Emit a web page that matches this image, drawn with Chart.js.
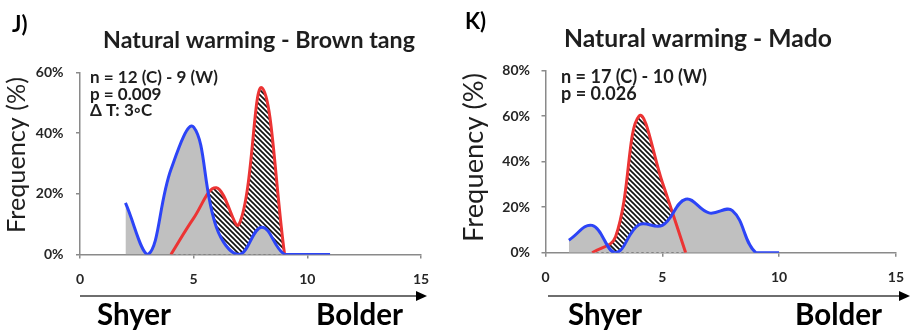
<!DOCTYPE html>
<html><head><meta charset="utf-8">
<script src="https://cdn.jsdelivr.net/npm/chart.js@4"></script>
<style>
html,body{margin:0;padding:0;background:#fff;}
#wrap{position:relative;width:916px;height:335px;overflow:hidden;background:#fff;}
canvas{position:absolute;top:0;}
</style></head><body>
<div id="wrap">
<canvas id="c1" width="460" height="335" style="left:0"></canvas>
<canvas id="c2" width="456" height="335" style="left:460px"></canvas>
</div>
<script>
// ---- data ----
const panelLabels = ['J)', 'K)'];
const titles = ['Natural warming - Brown tang', 'Natural warming - Mado'];
const statsBT = ['n = 12 (C) - 9 (W)', 'p = 0.009', '\u0394 T: 3\u25E6C'];
const statsMado = ['n = 17 (C) - 10 (W)', 'p = 0.026'];
const axisWords = ['Shyer', 'Bolder'];
const yTitle = 'Frequency (%)';
const xTicks = [0, 5, 10, 15];
const yTicksBT = [0, 20, 40, 60];
const yTicksMado = [0, 20, 40, 60, 80];
// Brown tang
const btControlX = [2, 3, 4, 5, 6, 7, 8, 9, 10, 11];
const btControl  = [17, 0, 28, 42, 9, 0, 9, 0, 0, 0];
const btWarmX = [4, 5, 6, 7, 8, 9];
const btWarm  = [0, 12, 22, 10, 55, 0];
// Mado
const madoControlX = [1, 2, 3, 4, 5, 6, 7, 8, 9, 10];
const madoControl  = [5.5, 12, 0, 12.3, 12, 23.5, 17.5, 18.5, 0, 0];
const madoWarmX = [2, 3, 4, 5, 6];
const madoWarm  = [0, 7, 60, 31, 0];

// ---- styles ----
const FONT = 'Lato, "Open Sans", sans-serif';
const BLUE = '#2c44f7';
const RED = '#ec3434';
const GRAY = '#c0c0c0';
const AXIS = '#8a8a8a';
const TXT = '#1e1e1e';
const TICK = '#262626';

function hatchPattern() {
  const s = 5;
  const c = document.createElement('canvas');
  c.width = s; c.height = s;
  const g = c.getContext('2d');
  g.fillStyle = '#fff'; g.fillRect(0, 0, s, s);
  g.strokeStyle = '#111'; g.lineWidth = 1.7;
  for (const k of [-s, 0, s]) {
    g.beginPath(); g.moveTo(k - 1, -1); g.lineTo(k + s + 1, s + 1); g.stroke();
  }
  return g.createPattern(c, 'repeat');
}

// font size so that text spans the wanted width
function fitFont(ctx, text, weight, width) {
  ctx.font = weight + ' 20px ' + FONT;
  const w = ctx.measureText(text).width;
  return weight + ' ' + (20 * width / w).toFixed(2) + 'px ' + FONT;
}

const decor = {
  id: 'decor',
  afterDraw(chart, args, o) {
    const ctx = chart.ctx;
    ctx.save();
    ctx.fillStyle = '#000';
    ctx.textBaseline = 'alphabetic';
    // panel label
    ctx.font = 'bold 22px ' + FONT;
    ctx.textAlign = 'left';
    ctx.fillText(o.panel, o.panelX, o.panelY);
    // title
    ctx.font = fitFont(ctx, o.title, 'bold', o.titleW);
    ctx.fillStyle = TXT;
    ctx.textAlign = 'center';
    ctx.fillText(o.title, o.titleX, o.titleY);
    // stats
    ctx.font = fitFont(ctx, o.stats[0], 'bold', o.statsW);
    ctx.textAlign = 'left';
    o.stats.forEach((s, i) => ctx.fillText(s, o.statsX, 83 + i * 16.5));
    // y title
    ctx.save();
    ctx.translate(o.yTitleX, o.yTitleY);
    ctx.rotate(-Math.PI / 2);
    ctx.font = fitFont(ctx, yTitle, 'normal', o.yTitleW);
    ctx.textAlign = 'center';
    ctx.textBaseline = 'middle';
    ctx.fillText(yTitle, 0, 0);
    ctx.restore();
    // arrow
    const ay = 296;
    ctx.strokeStyle = '#6e6e6e';
    ctx.lineWidth = 2;
    ctx.beginPath(); ctx.moveTo(o.arrowX0, ay); ctx.lineTo(o.arrowX1 - 9, ay); ctx.stroke();
    ctx.fillStyle = '#000';
    ctx.beginPath(); ctx.moveTo(o.arrowX1, ay); ctx.lineTo(o.arrowX1 - 11, ay - 5); ctx.lineTo(o.arrowX1 - 11, ay + 5); ctx.closePath(); ctx.fill();
    // words
    ctx.font = 'bold 29.5px ' + FONT;
    ctx.textAlign = 'left';
    ctx.fillText(axisWords[0], o.shyerX, 325);
    ctx.textAlign = 'right';
    ctx.fillText(axisWords[1], o.bolderX, 325);
    ctx.restore();
  }
};

function pts(xs, ys) { return xs.map((x, i) => ({ x: x, y: ys[i] })); }

function makeChart(id, cfg) {
  const ctx = document.getElementById(id).getContext('2d');
  const hatch = hatchPattern();
  return new Chart(ctx, {
    type: 'line',
    data: {
      datasets: [
        { label: 'Control', data: pts(cfg.cx, cfg.cy), borderColor: BLUE, backgroundColor: GRAY,
          fill: 'origin', borderWidth: 3, pointRadius: 0, tension: 0.4 },
        { label: 'Warming', data: pts(cfg.wx, cfg.wy), borderColor: RED, backgroundColor: hatch,
          fill: 'origin', borderWidth: 3, pointRadius: 0, tension: 0.4 }
      ]
    },
    options: {
      responsive: false, animation: false, devicePixelRatio: 1,
      layout: { padding: cfg.pad },
      plugins: { legend: { display: false }, tooltip: { enabled: false }, title: { display: false },
                 filler: { drawTime: 'beforeDatasetsDraw' }, decor: cfg.decor },
      scales: {
        x: {
          type: 'linear', min: 0, max: 15,
          afterBuildTicks: s => { s.ticks = xTicks.map(v => ({ value: v })); },
          afterFit: s => { s.height = 30; },
          border: { color: AXIS, width: 1.5 },
          grid: { drawOnChartArea: false, tickLength: 4, color: AXIS, lineWidth: 1.5 },
          ticks: { font: { family: FONT, size: 14, weight: 'bold' }, color: TICK, padding: cfg.xtPad, maxRotation: 0 }
        },
        y: {
          type: 'linear', min: 0, max: cfg.ymax,
          afterBuildTicks: s => { s.ticks = cfg.yt.map(v => ({ value: v })); },
          afterFit: s => { s.width = 60; },
          border: { color: AXIS, width: 1.5 },
          grid: { drawOnChartArea: false, tickLength: 4, color: AXIS, lineWidth: 1.5 },
          ticks: { font: { family: FONT, size: 14, weight: 'bold' }, color: TICK, padding: cfg.ytPad,
                   callback: v => v + '%' }
        }
      }
    },
    plugins: [decor]
  });
}

makeChart('c1', {
  cx: btControlX, cy: btControl, wx: btWarmX, wy: btWarm, ymax: 60, yt: yTicksBT, ytPad: 12.5, xtPad: 13,
  pad: { left: 20, right: 39, top: 72.5, bottom: 50.5 },
  decor: { panel: panelLabels[0], panelX: 12, panelY: 32, title: titles[0], titleX: 259, titleY: 47.5, titleW: 312,
           stats: statsBT, statsX: 90, statsW: 128,
           yTitleX: 17, yTitleY: 155, yTitleW: 156, arrowX0: 80, arrowX1: 427, shyerX: 97, bolderX: 403 }
});
makeChart('c2', {
  cx: madoControlX, cy: madoControl, wx: madoWarmX, wy: madoWarm, ymax: 80, yt: yTicksMado, ytPad: 11.5, xtPad: 12,
  pad: { left: 25.5, right: 13.5, top: 70.7, bottom: 52.3 },
  decor: { panel: panelLabels[1], panelX: 5, panelY: 29, title: titles[1], titleX: 238, titleY: 46.5, titleW: 268,
           stats: statsMado, statsX: 101, statsW: 146,
           yTitleX: 14, yTitleY: 157.5, yTitleW: 169, arrowX0: 88, arrowX1: 450, shyerX: 108, bolderX: 422 }
});
</script>
</body></html>
